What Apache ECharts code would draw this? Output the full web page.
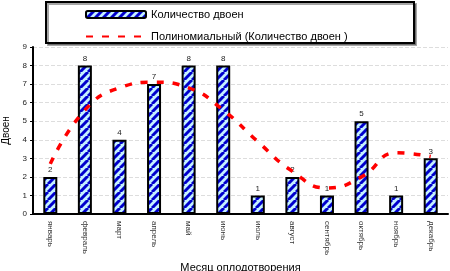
<!DOCTYPE html>
<html><head><meta charset="utf-8">
<script src="https://cdn.jsdelivr.net/npm/echarts@6/dist/echarts.min.js"></script>
<style>html,body{margin:0;padding:0;background:#fff}#c{width:450px;height:271px}</style>
</head><body><div id="c"></div>
<script>
var months = ['январь','февраль','март','апрель','май','июнь','июль','август','сентябрь','октябрь','ноябрь','декабрь'];
var twins = [2, 8, 4, 7, 8, 8, 1, 2, 1, 5, 1, 3];
var trend = [2.7, 5.6, 6.8, 7.1, 6.8, 5.6, 3.9, 2.3, 1.4, 2.0, 3.3, 3.1];
var yTicks = [0,1,2,3,4,5,6,7,8,9];

var cv = document.createElement('canvas');
cv.width = 8; cv.height = 8;
var g = cv.getContext('2d');
g.fillStyle = '#c4f0ff'; g.fillRect(0,0,8,8);
g.strokeStyle = '#0000cc'; g.lineWidth = 3;
[-8,0,8].forEach(function(k){ g.beginPath(); g.moveTo(k,8); g.lineTo(k+8,0); g.stroke(); });

var chart = echarts.init(document.getElementById('c'));
var font = 'Liberation Sans, Arial, sans-serif';
chart.setOption({
  animation:false,
  textStyle:{fontFamily:font},
  graphic:[{type:'rect', left:45, top:1, shape:{width:368, height:41}, style:{fill:'#fff', stroke:'#000', lineWidth:2, shadowColor:'rgba(0,0,0,0.35)', shadowOffsetX:2, shadowOffsetY:2}, z:-1}],
  legend:{orient:'vertical', left:80, top:4, itemWidth:60, itemHeight:7, itemGap:11,
    textStyle:{fontSize:11, color:'#000', fontFamily:font},
    data:[{name:'Количество двоен'},
          {name:'Полиномиальный (Количество двоен )', itemStyle:{opacity:0}}]},
  grid:{left:33, right:2, top:47, bottom:57, containLabel:false, outerBoundsMode:'none'},
  xAxis:{type:'category', data:months,
    name:'Месяц оплодотворения', nameLocation:'middle', nameGap:45,
    nameTextStyle:{fontSize:11, color:'#000'},
    axisLine:{lineStyle:{color:'#000', width:2}},
    axisTick:{alignWithLabel:false, lineStyle:{color:'#000'}},
    axisLabel:{rotate:-90, fontSize:8, color:'#333', margin:7, interval:0}},
  yAxis:{type:'value', min:0, max:9, interval:1,
    name:'Двоен', nameLocation:'middle', nameGap:20,
    nameTextStyle:{fontSize:10, color:'#000'},
    axisLine:{show:true, lineStyle:{color:'#000', width:2}},
    axisTick:{show:true, length:3, lineStyle:{color:'#000'}},
    axisLabel:{fontSize:8, color:'#222', margin:6, formatter:function(v){return yTicks.indexOf(v)>=0?String(v):'';}},
    splitLine:{lineStyle:{color:'#ddd', type:'dashed'}}},
  series:[
    {name:'Количество двоен', type:'bar', data:twins, barWidth:14,
      itemStyle:{color:{image:cv, repeat:'repeat'}, borderColor:'#000', borderWidth:2},
      label:{show:true, position:'top', distance:3, fontSize:8, color:'#222'}},
    {name:'Полиномиальный (Количество двоен )', type:'line', data:trend, smooth:true,
      symbol:'none', itemStyle:{color:'#ff0000'},
      lineStyle:{color:'#ff0000', width:3.5, type:[7,9]}, z:3}
  ]
});
</script></body></html>
